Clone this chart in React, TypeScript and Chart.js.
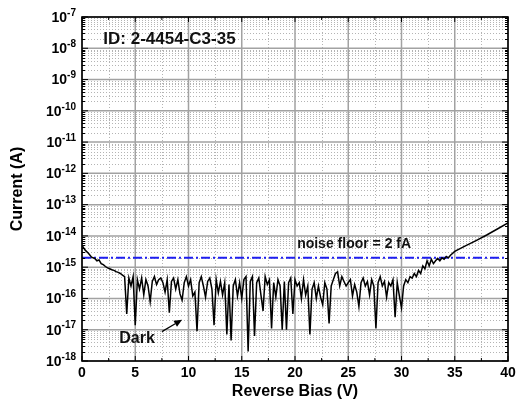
import { useEffect, useRef } from "react";
import { Chart, registerables } from "chart.js";

Chart.register(...registerables);

// ---------- data ----------
const biasV = [
  0, 0.3, 0.6, 0.9, 1.2, 1.4, 1.6, 1.8, 2.0, 2.2, 2.4, 2.6, 2.8, 3.0, 3.2, 3.4, 3.6, 3.8,
  4.0, 4.2, 4.4, 4.6, 4.8, 5.0, 5.2, 5.4, 5.6, 5.8, 6.0, 6.2, 6.4, 6.6, 6.8, 7.0, 7.2, 7.4, 7.6, 7.8,
  8.0, 8.2, 8.4, 8.6, 8.8, 9.0, 9.2, 9.4, 9.6, 9.8, 10.0, 10.2, 10.4, 10.6, 10.8, 11.0, 11.2, 11.4,
  11.6, 11.8, 12.0, 12.2, 12.4, 12.6, 12.8, 13.0, 13.2, 13.4, 13.6, 13.8, 14.0, 14.2, 14.4, 14.6,
  14.8, 15.0, 15.2, 15.4, 15.6, 15.8, 16.0, 16.2, 16.4, 16.6, 16.8, 17.0, 17.2, 17.4, 17.6, 17.8,
  18.0, 18.2, 18.4, 18.6, 18.8, 19.0, 19.2, 19.4, 19.6, 19.8, 20.0, 20.2, 20.4, 20.6, 20.8, 21.0,
  21.2, 21.4, 21.6, 21.8, 22.0, 22.2, 22.4, 22.6, 22.8, 23.0, 23.2, 23.4, 23.6, 23.8, 24.0, 24.2,
  24.4, 24.6, 24.8, 25.0, 25.2, 25.4, 25.6, 25.8, 26.0, 26.2, 26.4, 26.6, 26.8, 27.0, 27.2, 27.4,
  27.6, 27.8, 28.0, 28.2, 28.4, 28.6, 28.8, 29.0, 29.2, 29.4, 29.6, 29.8, 30.0, 30.2, 30.4, 30.6,
  30.8, 31.0, 31.2, 31.4, 31.6, 31.8, 32.0, 32.2, 32.4, 32.6, 32.8, 33.0, 33.2, 33.4, 33.6, 33.8,
  34.0, 34.2, 34.4, 34.6, 35, 36, 37, 38, 39, 40,
];

const darkCurrentA = [
  5.0e-15, 3.5e-15, 2.8e-15, 2.1e-15, 1.9e-15, 1.6e-15, 1.7e-15, 1.3e-15, 1.2e-15, 1.05e-15, 9.5e-16, 8.9e-16, 8.3e-16, 7.9e-16, 7.2e-16, 6.8e-16, 6.3e-16, 5.6e-16,
  5.0e-16, 3.2e-17, 4.5e-16, 2.5e-16, 5.0e-16, 1.4e-17, 4.0e-16, 2.0e-16, 4.5e-16, 1.3e-16, 4.0e-16, 2.5e-16, 7.9e-17, 3.5e-16, 5.0e-16, 2.8e-16, 4.0e-16, 4.5e-16, 3.2e-16, 1.6e-16,
  4.0e-16, 3.5e-17, 3.5e-16, 4.5e-16, 2.0e-16, 4.0e-16, 1.4e-16, 8.9e-17, 3.2e-16, 5.0e-16, 2.5e-16, 4.0e-16, 1.2e-16, 1.6e-16, 8.9e-18, 3.2e-16, 5.0e-16, 2.5e-16,
  1.1e-16, 3.5e-16, 4.5e-16, 2.0e-16, 1.4e-17, 4.0e-16, 1.5e-16, 3.5e-16, 1.3e-16, 3.2e-16, 7.1e-18, 2.8e-16, 4.5e-18, 2.5e-16, 4.0e-16, 1.2e-16,
  3.2e-16, 1.0e-16, 4.0e-16, 5.0e-16, 2.0e-18, 3.5e-16, 5.0e-16, 6.3e-18, 3.2e-16, 4.5e-16, 1.3e-16, 4.0e-17, 5.0e-16, 2.8e-16, 4.0e-16, 1.1e-17,
  3.2e-16, 1.1e-16, 4.0e-16, 2.5e-16, 1.0e-17, 3.5e-16, 1.0e-17, 3.2e-16, 4.5e-16, 3.2e-17, 4.0e-16, 2.5e-16, 3.2e-16, 1.0e-16, 4.0e-16, 1.3e-16,
  2.5e-16, 7.1e-18, 2.0e-16, 3.2e-16, 1.0e-16, 2.5e-16, 1.1e-16, 6.3e-17, 3.2e-16, 2.0e-16, 1.6e-17, 2.5e-16, 4.0e-16, 6.3e-16, 7.1e-16, 2.5e-16,
  5.0e-16, 3.5e-16, 2.5e-16, 3.2e-16, 4.0e-16, 1.2e-16, 2.8e-16, 1.6e-16, 5.6e-17, 3.2e-16, 4.5e-16, 2.5e-16, 3.5e-16, 1.3e-16, 4.0e-16, 2.5e-16,
  1.1e-17, 3.2e-16, 5.0e-16, 2.5e-16, 3.5e-16, 1.1e-16, 3.2e-16, 2.5e-16, 4.0e-16, 2.5e-17, 3.2e-16, 1.2e-16, 5.0e-17, 2.5e-16, 4.0e-16, 3.2e-16,
  5.0e-16, 4.5e-16, 6.3e-16, 5.0e-16, 7.9e-16, 6.3e-16, 1.1e-15, 8.9e-16, 1.6e-15, 1.1e-15, 1.8e-15, 1.3e-15, 1.6e-15, 1.9e-15, 1.6e-15, 2.0e-15,
  1.8e-15, 2.2e-15, 2.0e-15, 2.4e-15, 3.2e-15, 4.8e-15, 7.1e-15, 1.07e-14, 1.66e-14, 2.63e-14,
];

const noiseFloorA = 2e-15;
const xRange = [0, 40];
const xMajorTicks = [0, 5, 10, 15, 20, 25, 30, 35, 40];
const xMinorTicks = [2.5, 7.5, 12.5, 17.5, 22.5, 27.5, 32.5, 37.5];
const yDecadeExponents = [-18, -17, -16, -15, -14, -13, -12, -11, -10, -9, -8, -7];
const yMinorMultipliers = [2, 3, 4, 5, 6, 7, 8, 9];

const idLabel = { text: "ID: 2-4454-C3-35", x: 2.0, y: 1.9e-8 };
const noiseLabel = { text: "noise floor = 2 fA", x: 20.2, y: 5.5e-15 };
const darkLabel = { text: "Dark", x: 3.5, y: 5.2e-18 };
const darkArrow = { x0: 7.5, y0: 8.7e-18, x1: 9.4, y1: 2.1e-17 };

const FONT = '"Liberation Sans", Arial, Helvetica, sans-serif';

const framePlugin = {
  id: "frameAndGrid",
  beforeDatasetsDraw(chart: any) {
    const { ctx, chartArea } = chart;
    const { left, right, top, bottom } = chartArea;
    const x = chart.scales.x;
    const y = chart.scales.y;
    ctx.save();
    // minor grid (dotted)
    ctx.lineWidth = 1;
    ctx.strokeStyle = "#b4b4b4";
    ctx.setLineDash([1, 2]);
    ctx.beginPath();
    for (const v of xMinorTicks) {
      const px = Math.round(x.getPixelForValue(v)) + 0.5;
      ctx.moveTo(px, top);
      ctx.lineTo(px, bottom);
    }
    for (const e of yDecadeExponents) {
      if (e >= yDecadeExponents[yDecadeExponents.length - 1]) continue;
      for (const m of yMinorMultipliers) {
        const py = Math.round(y.getPixelForValue(m * Math.pow(10, e))) + 0.5;
        ctx.moveTo(left, py);
        ctx.lineTo(right, py);
      }
    }
    ctx.stroke();
    // major grid
    ctx.setLineDash([]);
    ctx.strokeStyle = "#a2a2a2";
    ctx.lineWidth = 1.5;
    ctx.beginPath();
    for (const v of xMajorTicks) {
      const px = x.getPixelForValue(v);
      ctx.moveTo(px, top);
      ctx.lineTo(px, bottom);
    }
    for (const e of yDecadeExponents) {
      const py = y.getPixelForValue(Math.pow(10, e));
      ctx.moveTo(left, py);
      ctx.lineTo(right, py);
    }
    ctx.stroke();
    ctx.restore();
  },
  afterDatasetsDraw(chart: any) {
    const { ctx, chartArea } = chart;
    const { left, right, top, bottom } = chartArea;
    const x = chart.scales.x;
    const y = chart.scales.y;
    ctx.save();
    ctx.setLineDash([]);
    ctx.strokeStyle = "#000";
    // ticks
    ctx.lineWidth = 1;
    ctx.beginPath();
    for (const e of yDecadeExponents) {
      const py = y.getPixelForValue(Math.pow(10, e));
      ctx.moveTo(left, py); ctx.lineTo(left + 6, py);
      ctx.moveTo(right, py); ctx.lineTo(right - 6, py);
      if (e >= yDecadeExponents[yDecadeExponents.length - 1]) continue;
      for (const m of yMinorMultipliers) {
        const pm = Math.round(y.getPixelForValue(m * Math.pow(10, e))) + 0.5;
        ctx.moveTo(left, pm); ctx.lineTo(left + 3, pm);
        ctx.moveTo(right, pm); ctx.lineTo(right - 3, pm);
      }
    }
    for (const v of xMajorTicks) {
      const px = x.getPixelForValue(v);
      ctx.moveTo(px, bottom); ctx.lineTo(px, bottom - 5);
      ctx.moveTo(px, top); ctx.lineTo(px, top + 5);
    }
    for (const v of xMinorTicks) {
      const px = x.getPixelForValue(v);
      ctx.moveTo(px, bottom); ctx.lineTo(px, bottom - 3);
      ctx.moveTo(px, top); ctx.lineTo(px, top + 3);
    }
    ctx.stroke();
    // frame
    ctx.lineWidth = 1.6;
    ctx.strokeRect(left, top, right - left, bottom - top);

    // y tick labels 10^n
    ctx.fillStyle = "#000";
    ctx.textBaseline = "middle";
    ctx.textAlign = "left";
    const baseFont = `bold 14px ${FONT}`;
    const expFont = `bold 10px ${FONT}`;
    const rightEdge = left - 6;
    for (const e of yDecadeExponents) {
      const py = y.getPixelForValue(Math.pow(10, e));
      const expText = String(e);
      ctx.font = expFont;
      const ew = ctx.measureText(expText).width;
      ctx.font = baseFont;
      const bw = ctx.measureText("10").width;
      ctx.fillText("10", rightEdge - ew - bw, py + 1);
      ctx.font = expFont;
      ctx.fillText(expText, rightEdge - ew, py - 4);
    }
    // x tick labels
    ctx.font = baseFont;
    ctx.textAlign = "center";
    for (const v of xMajorTicks) {
      ctx.fillText(String(v), x.getPixelForValue(v), bottom + 12.5);
    }

    // annotations
    ctx.textAlign = "left";
    ctx.fillStyle = "#111";
    ctx.font = `bold 17px ${FONT}`;
    ctx.fillText(idLabel.text, x.getPixelForValue(idLabel.x), y.getPixelForValue(idLabel.y));
    ctx.font = `bold 14px ${FONT}`;
    ctx.fillText(noiseLabel.text, x.getPixelForValue(noiseLabel.x), y.getPixelForValue(noiseLabel.y));
    ctx.font = `bold 16px ${FONT}`;
    ctx.fillText(darkLabel.text, x.getPixelForValue(darkLabel.x), y.getPixelForValue(darkLabel.y));

    // arrow
    const ax0 = x.getPixelForValue(darkArrow.x0);
    const ay0 = y.getPixelForValue(darkArrow.y0);
    const ax1 = x.getPixelForValue(darkArrow.x1);
    const ay1 = y.getPixelForValue(darkArrow.y1);
    const ang = Math.atan2(ay1 - ay0, ax1 - ax0);
    const headLen = 8;
    const headW = 3.5;
    const bx = ax1 - headLen * Math.cos(ang);
    const by = ay1 - headLen * Math.sin(ang);
    ctx.lineWidth = 1.2;
    ctx.beginPath();
    ctx.moveTo(ax0, ay0);
    ctx.lineTo(bx, by);
    ctx.stroke();
    ctx.beginPath();
    ctx.moveTo(ax1, ay1);
    ctx.lineTo(bx + headW * Math.sin(ang), by - headW * Math.cos(ang));
    ctx.lineTo(bx - headW * Math.sin(ang), by + headW * Math.cos(ang));
    ctx.closePath();
    ctx.fillStyle = "#000";
    ctx.fill();
    ctx.restore();
  },
};

export default function App() {
  const canvasRef = useRef<HTMLCanvasElement | null>(null);

  useEffect(() => {
    const canvas = canvasRef.current;
    if (!canvas) return;
    const chart = new Chart(canvas, {
      type: "line",
      data: {
        datasets: [
          {
            label: "Dark",
            data: biasV.map((v, i) => ({ x: v, y: darkCurrentA[i] })),
            borderColor: "#000",
            borderWidth: 1.5,
            pointRadius: 0,
            tension: 0,
            order: 0,
          },
          {
            label: "noise floor = 2 fA",
            data: [
              { x: xRange[0], y: noiseFloorA },
              { x: xRange[1], y: noiseFloorA },
            ],
            borderColor: "#1e1ef0",
            borderWidth: 2,
            borderDash: [9, 3, 2, 3],
            pointRadius: 0,
            tension: 0,
            order: 1,
          },
        ],
      },
      options: {
        animation: false,
        responsive: false,
        maintainAspectRatio: false,
        layout: { padding: { left: 0, right: 10, top: 17, bottom: 0 } },
        plugins: {
          legend: { display: false },
          tooltip: { enabled: false },
        },
        scales: {
          x: {
            type: "linear",
            min: xRange[0],
            max: xRange[1],
            grid: { display: false, drawTicks: false },
            border: { display: false },
            ticks: { display: false },
            title: {
              display: true,
              text: "Reverse Bias (V)",
              color: "#000",
              font: { family: FONT, size: 16, weight: "bold" },
              padding: { top: 0, bottom: 4 },
            },
            afterFit(scale: any) {
              scale.height = 44;
            },
          },
          y: {
            type: "logarithmic",
            min: 1e-18,
            max: 1e-7,
            grid: { display: false, drawTicks: false },
            border: { display: false },
            ticks: { display: false },
            title: {
              display: true,
              text: "Current (A)",
              color: "#000",
              font: { family: FONT, size: 16, weight: "bold" },
              padding: { top: 8, bottom: 0 },
            },
            afterFit(scale: any) {
              scale.width = 82;
            },
          },
        },
      },
      plugins: [framePlugin],
    } as any);
    return () => chart.destroy();
  }, []);

  return (
    <div style={{ position: "fixed", left: 0, top: 0, width: 518, height: 405, background: "#fff" }}>
      <canvas ref={canvasRef} width={518} height={405} style={{ width: 518, height: 405, display: "block" }} />
    </div>
  );
}
